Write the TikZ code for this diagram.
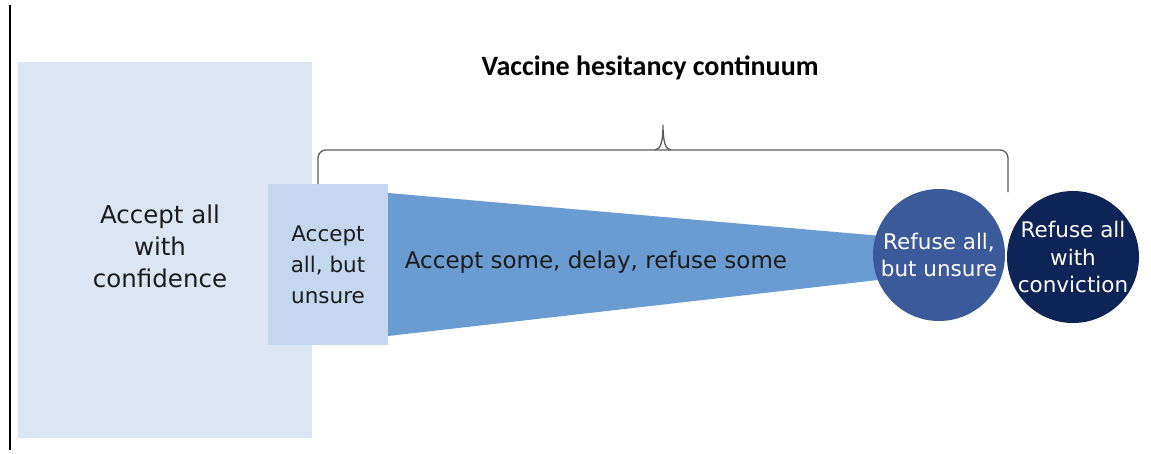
\documentclass[tikz,border=0pt]{standalone}
\usepackage{fontspec}
\setmainfont{DejaVu Sans}
\newfontfamily\titlefont{Carlito}
\usepackage{tikz}
\usetikzlibrary{positioning}
\definecolor{paleBlue}{HTML}{DCE6F2}
\definecolor{lightBlue}{HTML}{C4D7EE}
\definecolor{midBlue}{HTML}{6A9BD1}
\definecolor{deepBlue}{HTML}{3B5A9A}
\definecolor{navyBlue}{HTML}{0E2456}
\definecolor{braceGray}{HTML}{5A5A5A}
\definecolor{inkDark}{HTML}{1C1C1C}

\begin{document}
\begin{tikzpicture}[
    x=1pt, y=-1pt,
    font=\fontsize{21.5}{31}\selectfont,
    block/.style={inner sep=0pt, align=center, text=inkDark},
    disc/.style={circle, inner sep=0pt, minimum size=132pt},
    disctext/.style={align=center, text=white, inner sep=0pt, font=\fontsize{21.5}{27.5}\selectfont},
    brace/.style={draw=braceGray, line width=1.3pt, rounded corners=8pt}
  ]
    \useasboundingbox (0,0) rectangle (1151,453);
    \draw[line width=1.5pt] (10,5) -- (10,450);

    \node[block, fill=paleBlue, minimum width=294pt, minimum height=376pt] (sure) at (165,250) {};
    \node[block, font=\fontsize{24.5}{32}\selectfont] (suretext) at (160,246) {Accept all\\with\\confidence};
    \node[block, fill=lightBlue, minimum width=120pt, minimum height=161pt] (unsure) at (328,264.5) {Accept\\all, but\\unsure};

    % hesitancy wedge
    \fill[midBlue] (unsure.east |- 0,193) -- (939,241) -- (939,273) -- (unsure.east |- 0,336) -- cycle;
    \node[block, font=\fontsize{23}{28}\selectfont] (some) at (596,262) {Accept some, delay, refuse some};

    \node[disc, fill=deepBlue, label={[disctext]center:Refuse all,\\but unsure}] (refuse) at (939,255) {};
    \node[disc, fill=navyBlue, label={[disctext]center:Refuse all\\with\\conviction}] (conv) at (1073,257) {};

    \draw[brace] (318,184) -- (318,150) -- (663,150);
    \draw[brace] (663,150) -- (1008,150) -- (1008,192);
    \draw[draw=braceGray, line width=1.3pt] (655,150) .. controls (661,150) and (663,140) .. (663,125)
      .. controls (663,140) and (665,150) .. (671,150);

    \node[font=\titlefont\bfseries\fontsize{28}{32}\selectfont] (title) at (650,68) {Vaccine hesitancy continuum};
\end{tikzpicture}
\end{document}
